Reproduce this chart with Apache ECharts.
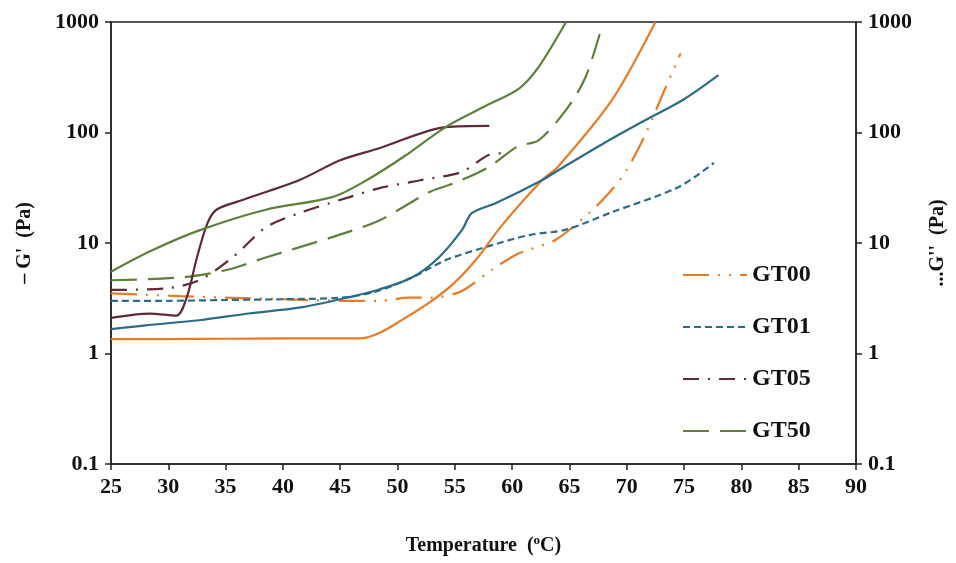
<!DOCTYPE html>
<html>
<head>
<meta charset="utf-8">
<script src="https://cdn.jsdelivr.net/npm/echarts@6/dist/echarts.min.js"></script>
<style>
html, body { margin: 0; padding: 0; background: #fff; }
#c1 { width: 956px; height: 563px; }
</style>
</head>
<body>
<div id="c1"></div>
<script>
// ticks
var xTicks = [25, 90, 5];
var yTicks = [0.1, 1000];

// GT00
var gt00T1 = [25, 30, 35, 40, 45, 47, 48.5, 50, 52.8, 55, 57, 59, 62.6, 64, 68.7, 72.5];
var gt00G1 = [1.35, 1.35, 1.36, 1.37, 1.37, 1.38, 1.55, 1.9, 2.9, 4.4, 7.4, 14, 37, 49, 196, 1000];
var gt00T2 = [25, 28, 31, 35, 40, 45, 48.5, 51, 53, 55.1, 56.2, 58.2, 60.3, 61.5, 63.8, 66.7, 68.4, 70, 71.7, 73.2, 74.7];
var gt00G2 = [3.5, 3.4, 3.3, 3.2, 3.1, 3.0, 3.0, 3.2, 3.2, 3.5, 4.0, 5.7, 7.8, 8.7, 10.7, 18.6, 28, 46, 100, 230, 520];

// GT01
var gt01T1 = [25, 28, 32.7, 37, 41.4, 45, 48.4, 51.3, 53.6, 55.6, 56.5, 58.6, 62.6, 64.1, 68, 71.6, 75, 78];
var gt01G1 = [1.66, 1.8, 2.0, 2.3, 2.6, 3.1, 3.8, 4.9, 7.4, 13, 18.7, 23, 37, 46, 80, 129, 200, 330];
var gt01T2 = [25, 30, 35, 40, 45, 48, 51.3, 54.2, 57.4, 61.5, 64.7, 68.7, 74.5, 77.6];
var gt01G2 = [3.0, 3.0, 3.05, 3.1, 3.2, 3.6, 4.9, 7.0, 9.0, 11.8, 13.2, 19, 32, 53];

// GT05
var gt05T1 = [25, 28.4, 30.7, 31.6, 32.5, 33.4, 34.2, 36.2, 41.4, 45, 48.4, 54.2, 58];
var gt05G1 = [2.1, 2.3, 2.2, 3.2, 7.4, 15, 20, 24, 37, 56, 72, 112, 115];
var gt05T2 = [25, 29.9, 32.7, 35.6, 38.5, 41.4, 45.8, 48.5, 52, 55.6, 58, 59.3];
var gt05G2 = [3.76, 3.9, 4.6, 7.4, 13.8, 18.6, 26, 31.5, 37, 44, 63, 65];

// GT50
var gt50T1 = [25, 28.5, 32.7, 38.5, 44.3, 47.3, 50.5, 54.2, 57.5, 60.6, 62.3, 64.7];
var gt50G1 = [5.5, 8.5, 13, 20, 26, 37, 60, 112, 170, 250, 390, 1000];
var gt50T2 = [25, 31.3, 35.1, 38.5, 44.3, 48.4, 52.8, 55, 58, 60.5, 62.3, 64.7, 66.4, 67.8];
var gt50G2 = [4.6, 4.9, 5.7, 7.4, 11.3, 16, 29, 35, 49, 75, 85, 160, 316, 890];

var names = ['GT00', 'GT01', 'GT05', 'GT50'];
var colors = ['#E87B25', '#2E6B88', '#5E2A34', '#5F7F3C'];
var dashes = [[26, 9, 2, 9, 2, 9], [7, 4], [16, 9, 2, 9], [26, 11]];

var font = '"Liberation Serif", "Times New Roman", serif';

function pairs(t, g) {
    var out = [];
    for (var i = 0; i < t.length; i++) out.push([t[i], g[i]]);
    return out;
}

var solid = [pairs(gt00T1, gt00G1), pairs(gt01T1, gt01G1), pairs(gt05T1, gt05G1), pairs(gt50T1, gt50G1)];
var dashed = [pairs(gt00T2, gt00G2), pairs(gt01T2, gt01G2), pairs(gt05T2, gt05G2), pairs(gt50T2, gt50G2)];

var series = [];
for (var i = 0; i < 4; i++) {
    series.push({
        name: names[i] + ' G\'',
        type: 'line',
        smooth: 0.3,
        symbol: 'none',
        data: solid[i],
        lineStyle: { color: colors[i], width: 2.2 },
        itemStyle: { color: colors[i] },
        z: 3
    });
    series.push({
        name: names[i],
        type: 'line',
        smooth: 0.3,
        symbol: 'none',
        data: dashed[i],
        lineStyle: { color: colors[i], width: 2.2, type: dashes[i] },
        itemStyle: { color: colors[i] },
        z: 2
    });
}

var labelStyle = { fontFamily: font, fontWeight: 'bold', fontSize: 22, color: '#111' };
var noComma = function (v) { return String(v); };

var myChart = echarts.init(document.getElementById('c1'));
var option = {
    animation: false,
    backgroundColor: '#fff',
    grid: { left: 111, right: 98, top: 22, bottom: 99, show: true, borderColor: '#222', borderWidth: 1.5 },
    legend: {
        data: names,
        orient: 'vertical',
        left: 677,
        top: 258,
        itemWidth: 64,
        itemHeight: 14,
        itemGap: 28,
        itemStyle: { opacity: 0 },
        textStyle: { fontFamily: font, fontWeight: 'bold', fontSize: 24, color: '#111' }
    },
    xAxis: {
        type: 'value',
        min: xTicks[0],
        max: xTicks[1],
        interval: xTicks[2],
        name: 'Temperature  ({sup|o}C)',
        nameLocation: 'middle',
        nameGap: 70,
        nameTextStyle: {
            fontFamily: font, fontWeight: 'bold', fontSize: 20, color: '#111',
            rich: { sup: { fontFamily: font, fontWeight: 'bold', fontSize: 13, verticalAlign: 'top', padding: [0, 0, 10, 0] } }
        },
        splitLine: { show: false },
        axisLine: { lineStyle: { color: '#222', width: 1.5 } },
        axisTick: { lineStyle: { color: '#222', width: 1.5 }, length: 6 },
        axisLabel: Object.assign({ margin: 12 }, labelStyle)
    },
    yAxis: [{
        type: 'log',
        logBase: 10,
        min: yTicks[0],
        max: yTicks[1],
        name: '\u2013 G\'  (Pa)',
        nameLocation: 'middle',
        nameGap: 76,
        nameTextStyle: { fontFamily: font, fontWeight: 'bold', fontSize: 20, color: '#111' },
        splitLine: { show: false },
        axisLine: { show: true, lineStyle: { color: '#222', width: 1.5 } },
        axisTick: { lineStyle: { color: '#222', width: 1.5 }, length: 6 },
        axisLabel: Object.assign({ margin: 12, formatter: noComma }, labelStyle)
    }, {
        type: 'log',
        logBase: 10,
        min: yTicks[0],
        max: yTicks[1],
        position: 'right',
        name: '...G\'\'  (Pa)',
        nameLocation: 'middle',
        nameGap: 72,
        nameTextStyle: { fontFamily: font, fontWeight: 'bold', fontSize: 20, color: '#111' },
        splitLine: { show: false },
        axisLine: { show: true, lineStyle: { color: '#222', width: 1.5 } },
        axisTick: { lineStyle: { color: '#222', width: 1.5 }, length: 6 },
        axisLabel: Object.assign({ margin: 12, formatter: noComma }, labelStyle)
    }],
    series: series
};
myChart.setOption(option, true);
</script>
</body>
</html>
